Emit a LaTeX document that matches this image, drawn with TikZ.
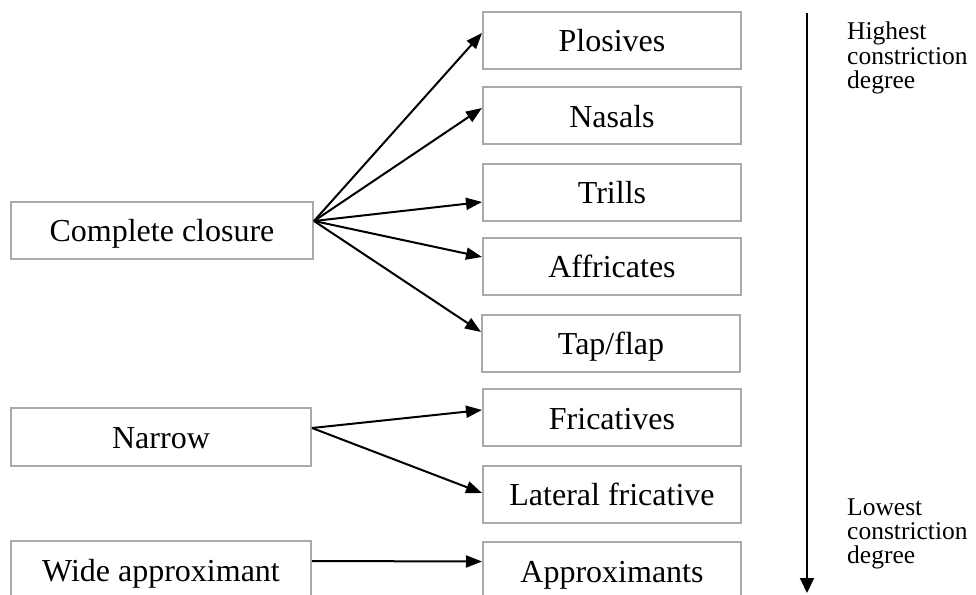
\documentclass[tikz,border=0pt]{standalone}
\usepackage{fontspec}
\setmainfont{Liberation Serif}
\usetikzlibrary{arrows.meta,calc}
\definecolor{boxgray}{RGB}{170,170,170}
\begin{document}
\begin{tikzpicture}[x=1pt,y=-1pt,
  box/.style={draw=boxgray, line width=2pt, inner sep=0pt,
    font=\fontsize{32}{38}\selectfont, text height=32pt, text depth=9pt},
  lbox/.style={box, minimum width=300pt, minimum height=57pt},
  rbox/.style={box, minimum width=258pt, minimum height=57pt},
  arr/.style={line width=2pt, -{Triangle[length=16pt,width=12pt]}},
  side/.style={font=\fontsize{25.5}{24}\selectfont, align=left, inner sep=0pt, anchor=base west}]
\useasboundingbox (0,0) rectangle (976,594);

\node[lbox, minimum width=302pt] (cc) at (162,230) {Complete closure};
\node[lbox, minimum height=58pt] (nar) at (161,437) {Narrow};
\node[lbox] (wide) at (161,569.5) {Wide approximant};

\node[rbox] (plo) at (612,40.5) {Plosives};
\node[rbox] (nas) at (612,115.5) {Nasals};
\node[rbox] (tri) at (612,192) {Trills};
\node[rbox] (aff) at (612,266) {Affricates};
\node[rbox] (tap) at (611,343) {Tap/flap};
\node[rbox] (fri) at (612,417.5) {Fricatives};
\node[rbox] (lat) at (612,494) {Lateral fricative};
\node[rbox] (app) at (612,570.5) {Approximants};

\draw[arr] ($(cc.east)+(0,-9)$) -- ($(plo.west)+(0,-7.5)$);
\draw[arr] ($(cc.east)+(0,-9)$) -- ($(nas.west)+(0,-7.5)$);
\draw[arr] ($(cc.east)+(0,-9)$) -- ($(tri.west)+(0,10)$);
\draw[arr] ($(cc.east)+(0,-9)$) -- ($(aff.west)+(0,-9)$);
\draw[arr] ($(cc.east)+(0,-9)$) -- ($(tap.west)+(0,-11)$);
\draw[arr] ($(nar.east)+(0,-9)$) -- ($(fri.west)+(0,-7.5)$);
\draw[arr] ($(nar.east)+(0,-9)$) -- ($(lat.west)+(0,-1)$);
\draw[arr] ($(wide.east)+(0,-8.5)$) -- ($(app.west)+(0,-9)$);

\coordinate (vtop) at (807,13);
\coordinate (vbot) at (807,593);
\draw[line width=2pt, -{Triangle[length=15pt,width=14pt]}] (vtop) -- (vbot);

\node[side] (hi) at (847,88) {Highest\\constriction\\degree};
\node[side] (lo) at (847,563) {Lowest\\constriction\\degree};
\end{tikzpicture}
\end{document}
